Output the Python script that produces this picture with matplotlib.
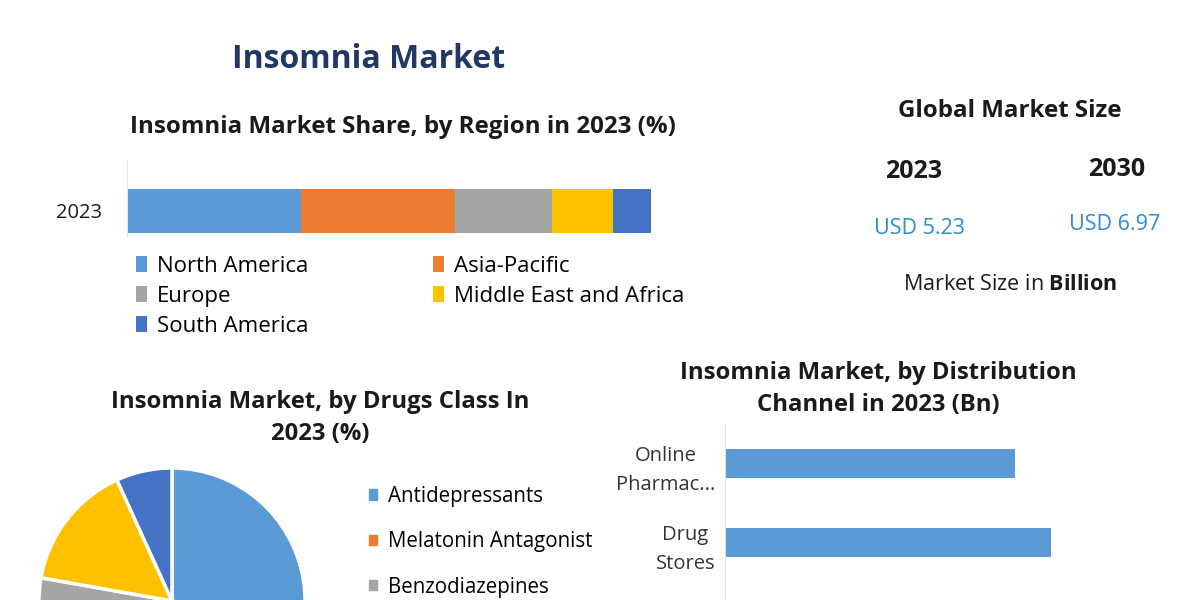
import numpy as np
from matplotlib import pyplot as plt
from matplotlib.patches import Patch

plt.rcParams['font.family'] = ['Open Sans', 'DejaVu Sans']
plt.rcParams['mathtext.fontset'] = 'custom'
plt.rcParams['mathtext.rm'] = 'Open Sans'
plt.rcParams['mathtext.bf'] = 'Open Sans:bold'

# ---- data ----
regions = ['North America', 'Asia-Pacific', 'Europe', 'Middle East and Africa', 'South America']
region_share = [33.2, 29.4, 18.5, 11.6, 7.3]
region_colors = ['#5B9BD5', '#ED7D31', '#A5A5A5', '#FFC000', '#4472C4']

drug_classes = ['Antidepressants', 'Melatonin Antagonist', 'Benzodiazepines',
                'Non-benzodiazepines', 'Orexin Antagonist']
drug_share = [45.0, 20.0, 12.8, 15.4, 6.8]
drug_legend_shown = 3   # the rest of the legend falls below the picture

channels = ['Online\nPharmac...', 'Drug\nStores', 'Hospital\nPharmac...']
channel_bn = [1.61, 1.81, 1.81]

years = ['2023', '2030']
market_size = ['USD 5.23', 'USD 6.97']

W, H = 1200, 600
def fx(x): return x / W
def fy(y): return 1 - y / H
def box(x0, y0, x1, y1):
    # pixel box (top-left origin) -> figure axes rect
    return [x0 / W, 1 - y1 / H, (x1 - x0) / W, (y1 - y0) / H]

fig = plt.figure(figsize=(12, 6), dpi=100)
fig.patch.set_facecolor('white')
txt = '#1a1a1a'

# ---- headings ----
fig.text(fx(369), fy(60), 'Insomnia Market', ha='center', va='center',
         fontsize=23, fontweight='bold', color='#1F3864')
fig.text(fx(403), fy(127), 'Insomnia Market Share, by Region in 2023 (%)', ha='center',
         va='center', fontsize=17.4, fontweight='bold', color=txt)

# ---- stacked region bar ----
ax1 = fig.add_axes(box(127, 160, 651, 237))
left = 0
for name, val, col in zip(regions, region_share, region_colors):
    ax1.barh([0.34], [val], left=left, height=0.57, color=col, label=name)
    left += val
ax1.set_xlim(0, 100)
ax1.set_ylim(0, 1)
ax1.set_yticks([0.34])
ax1.set_yticklabels(['2023'], fontsize=14.5, color=txt)
ax1.tick_params(axis='y', length=0, pad=18)
ax1.set_xticks([])
for s in ['top', 'right', 'bottom']:
    ax1.spines[s].set_visible(False)
ax1.spines['left'].set_color('#E3E3E3')
h, l = ax1.get_legend_handles_labels()
order = [0, 2, 4, 1, 3]
ax1.legend([h[i] for i in order], [l[i] for i in order], ncol=2, frameon=False,
           loc='upper left', bbox_to_anchor=(fx(136), fy(256)), bbox_transform=fig.transFigure,
           fontsize=16, handlelength=0.5, handleheight=0.7, handletextpad=0.45,
           columnspacing=5.6, labelspacing=0.4, borderaxespad=0, borderpad=0)

# ---- global market size block ----
fig.text(fx(1010), fy(111), 'Global Market Size', ha='center', va='center',
         fontsize=17.4, fontweight='bold', color=txt)
for x, y, yr in zip([914, 1117], [172, 170], years):
    fig.text(fx(x), fy(y), yr, ha='center', va='center', fontsize=18,
             fontweight='bold', color=txt)
for x, y, val in zip([919, 1115], [228, 225], market_size):
    fig.text(fx(x), fy(y), val, ha='center', va='center', fontsize=15.5,
             color='#2E8BD3')
fig.text(fx(1010), fy(284), 'Market Size in $\\mathbf{Billion}$', ha='center', va='center',
         fontsize=15.5, color=txt)

# ---- drug class pie ----
fig.text(fx(320), fy(418), 'Insomnia Market, by Drugs Class In\n2023 (%)', ha='center',
         va='center', fontsize=17.2, fontweight='bold', color=txt, linespacing=1.4)
cx, cy, r = 172, 601, 133
ax2 = fig.add_axes(box(cx - r, cy - r, cx + r, cy + r))
wedges, _ = ax2.pie(drug_share, colors=region_colors, startangle=90, counterclock=False,
                    wedgeprops=dict(edgecolor='white', linewidth=2.5))
ax2.set_xlim(-1, 1)
ax2.set_ylim(-1, 1)
ax2.set_aspect('equal')
ax2.axis('off')
handles = [Patch(color=region_colors[i]) for i in range(drug_legend_shown)]
fig.legend(handles, drug_classes[:drug_legend_shown], loc='upper left',
           bbox_to_anchor=(fx(369), fy(486)), frameon=False, fontsize=14.8,
           handlelength=0.4, handleheight=0.4, handletextpad=0.5, labelspacing=1.18,
           borderaxespad=0, borderpad=0)

# ---- distribution channel bars ----
fig.text(fx(878), fy(389), 'Insomnia Market, by Distribution\nChannel in 2023 (Bn)',
         ha='center', va='center', fontsize=17.2, fontweight='bold', color=txt,
         linespacing=1.4)
ax3 = fig.add_axes(box(725, 424, 1175, 661))
ypos = np.arange(len(channels))
ax3.barh(ypos, channel_bn, height=0.36, color='#5B9BD5')
ax3.set_ylim(len(channels) - 0.5, -0.5)
ax3.set_xlim(0, 2.5)
ax3.set_yticks(ypos)
ax3.set_yticklabels(channels, fontsize=14.5, color='#333333', linespacing=1.6,
                    multialignment='center')
ax3.tick_params(axis='y', length=0, pad=7)
ax3.set_xticks([])
for s in ['top', 'right', 'bottom']:
    ax3.spines[s].set_visible(False)
ax3.spines['left'].set_color('#E3E3E3')

plt.savefig('out.png', dpi=100)
